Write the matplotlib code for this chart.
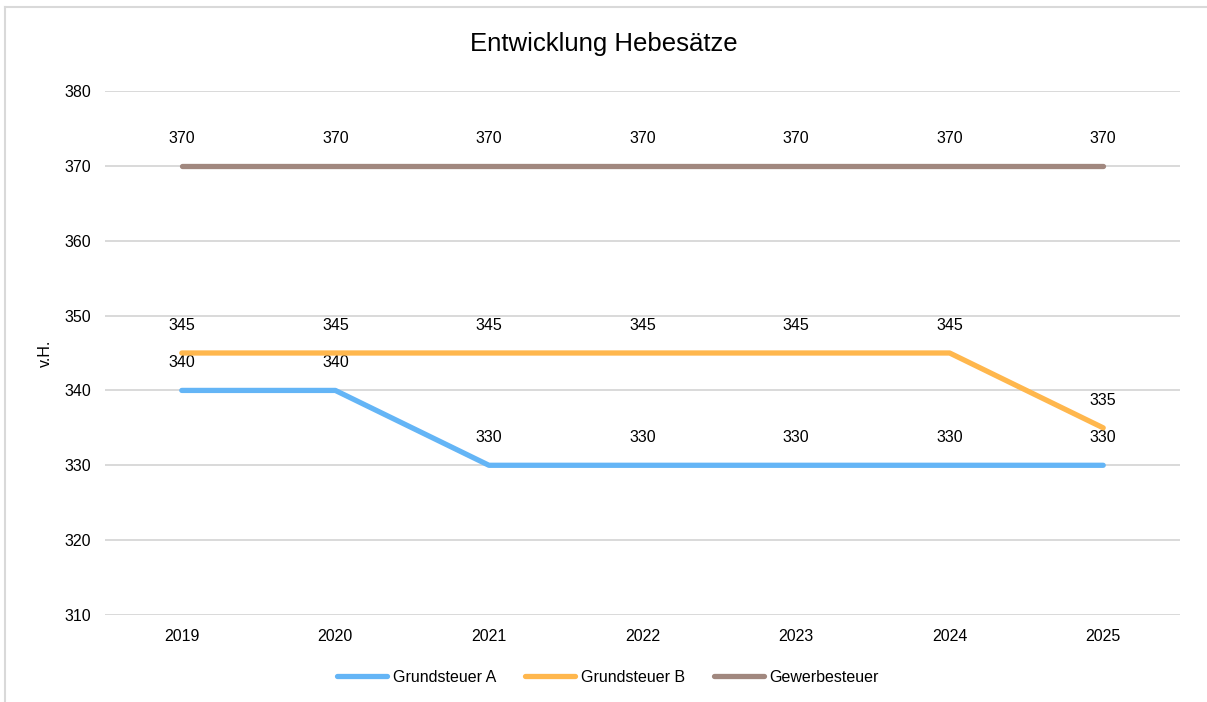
#!/usr/bin/env python3
"""Entwicklung Hebesaetze line chart."""

import matplotlib

matplotlib.use("Agg")
import matplotlib.pyplot as plt
from matplotlib.lines import Line2D

plt.rcParams["font.family"] = ["Liberation Sans", "DejaVu Sans"]

years = ["2019", "2020", "2021", "2022", "2023", "2024", "2025"]
grundsteuer_a = [340, 340, 330, 330, 330, 330, 330]
grundsteuer_b = [345, 345, 345, 345, 345, 345, 335]
gewerbesteuer = [370, 370, 370, 370, 370, 370, 370]

series = [
    ("Grundsteuer A", grundsteuer_a, "#64B5F6"),
    ("Grundsteuer B", grundsteuer_b, "#FFB74D"),
    ("Gewerbesteuer", gewerbesteuer, "#A1887F"),
]

fig = plt.figure(figsize=(12.07, 7.02), dpi=100)
ax = fig.add_axes((105 / 1207, 1 - 615 / 702, 1075 / 1207, 524 / 702))

x = list(range(len(years)))
for name, values, color in series:
    ax.plot(x, values, color=color, linewidth=3.8, solid_capstyle="round",
            solid_joinstyle="round", label=name, zorder=3)
    for xi, v in zip(x, values):
        ax.annotate(str(v), (xi, v), xytext=(0, 20), textcoords="offset points",
                    ha="center", va="center", fontsize=11.5, color="#000000")

ax.set_xlim(-0.5, len(years) - 0.5)
ax.set_ylim(310, 380)
ax.set_yticks(range(310, 381, 10))
ax.set_xticks(x)
ax.set_xticklabels(years)
ax.tick_params(axis="both", length=0, labelsize=11.5, colors="#000000")
ax.tick_params(axis="y", pad=10)
ax.tick_params(axis="x", pad=10)
ax.grid(axis="y", color="#D9D9D9", linewidth=1.4, zorder=0)
for spine in ax.spines.values():
    spine.set_visible(False)
ax.set_ylabel("v.H.", fontsize=11.5, labelpad=8)

fig.text(0.5, 1 - 44 / 702, "Entwicklung Hebesätze", ha="center", va="center",
         fontsize=18.5)

handles = [Line2D([0], [0], color=c, linewidth=3.8, solid_capstyle="round")
           for _, _, c in series]
fig.legend(handles, [s[0] for s in series], loc="center",
           bbox_to_anchor=(608 / 1207, 1 - 677 / 702), ncol=3, frameon=False,
           fontsize=11.5, handlelength=3.13, handletextpad=0.37, columnspacing=1.8)

# light frame on left and top edges
fig.add_artist(Line2D([5 / 1207, 5 / 1207], [0, 1 - 7 / 702], color="#D9D9D9",
                      linewidth=1.5, transform=fig.transFigure))
fig.add_artist(Line2D([5 / 1207, 1], [1 - 7 / 702, 1 - 7 / 702], color="#D9D9D9",
                      linewidth=1.5, transform=fig.transFigure))

fig.savefig("out.png", dpi=100)
